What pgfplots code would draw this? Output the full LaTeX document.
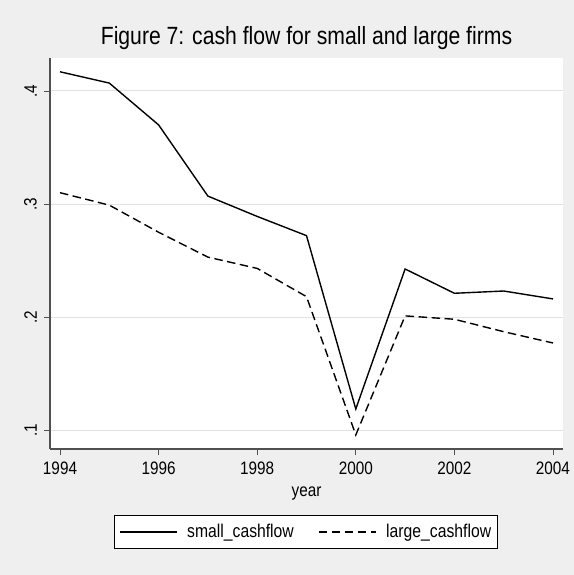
\documentclass[border=0pt]{standalone}
\usepackage{pgfplots}
\pgfplotsset{compat=1.18}
\usepackage{fontspec}
\setmainfont{Liberation Sans}[FakeStretch=0.85]
\definecolor{bg}{RGB}{239,239,239}
\definecolor{gridc}{RGB}{226,226,226}
\definecolor{axc}{RGB}{80,80,80}
\begin{document}
\begin{tikzpicture}
\fill[bg] (0bp,0bp) rectangle (574bp,575bp);
\begin{axis}[
	at={(50bp,126bp)}, anchor=south west,
	width=513bp, height=391bp, scale only axis,
	axis background/.style={fill=white},
	xmin=1993.797, xmax=2004.203,
	ymin=0.0832, ymax=0.4292,
	axis x line*=bottom, axis y line*=left, % Stata style: only left and bottom
	axis line style={-, draw=axc, line width=1.1pt},
	tick align=outside, major tick length=6bp,
	tick style={axc, line width=0.9pt},
	xtick={1994,1996,1998,2000,2002,2004},
	xticklabels={1994,1996,1998,2000,2002,2004},
	ytick={0.1,0.2,0.3,0.4},
	yticklabels={.1,.2,.3,.4},
	ymajorgrids, major grid style={gridc, line width=1pt},
	ticklabel style={font=\fontsize{18bp}{20bp}\selectfont},
	xticklabel style={inner sep=0pt, yshift=-7bp},
	yticklabel style={rotate=90, anchor=south, inner sep=0pt, yshift=7bp},
	title={Figure 7: cash flow for small and large firms},
	title style={font=\fontsize{24.9bp}{28bp}\selectfont, at={(axis description cs:0.5,1)}, anchor=center, inner sep=0pt, yshift=13.5bp},
	xlabel={year},
	xlabel style={font=\fontsize{18bp}{20bp}\selectfont, at={(axis description cs:0.5,0)}, anchor=center, inner sep=0pt, yshift=-45bp},
	legend columns=2,
	legend style={at={(axis description cs:0.499,-0.212)}, anchor=center,
		draw=black, fill=white, line width=0.8pt,
		font=\fontsize{18.5bp}{20bp}\selectfont,
		inner xsep=4bp, inner ysep=7bp,
		/tikz/every odd column/.append style={column sep=8bp},
		/tikz/every even column/.append style={column sep=22bp}},
	legend image code/.code={\draw[#1] (0bp,0bp) -- (57bp,0bp);},
	]

\addplot [black, line width=1.4pt] coordinates {
	(1994,0.417) (1995,0.407) (1996,0.370) (1997,0.307) (1998,0.289)
	(1999,0.272) (2000,0.1186) (2001,0.2425) (2002,0.221) (2003,0.223) (2004,0.216)
};
\addlegendentry{small\_cashflow}

\addplot [black, line width=1.4pt, dash pattern=on 8.5bp off 4.5bp] coordinates {
	(1994,0.310) (1995,0.299) (1996,0.275) (1997,0.253) (1998,0.243)
	(1999,0.218) (2000,0.0956) (2001,0.201) (2002,0.198) (2003,0.187) (2004,0.177)
};
\addlegendentry{large\_cashflow}

\end{axis}
\end{tikzpicture}
\end{document}
